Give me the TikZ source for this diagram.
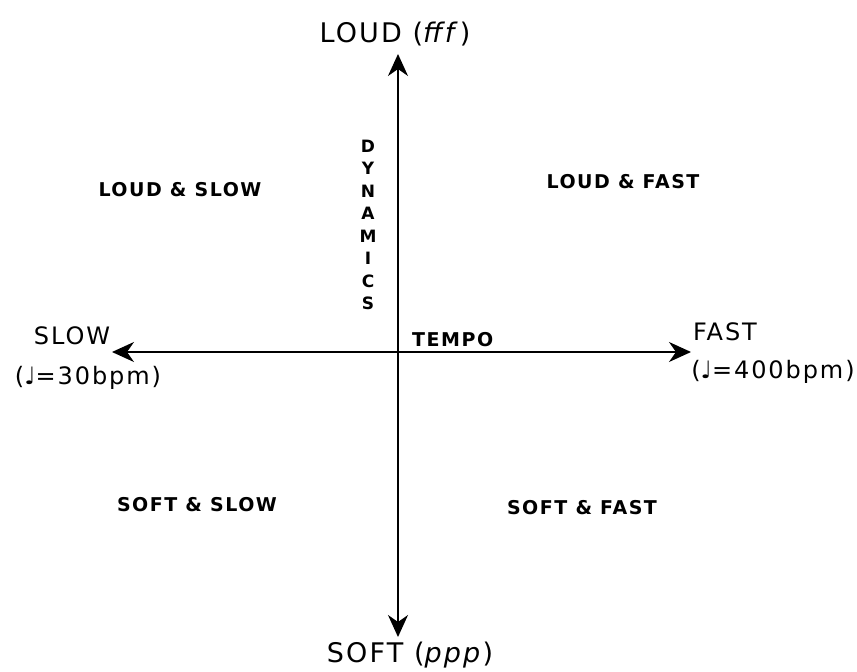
\documentclass[tikz,border=0pt]{standalone}
\usepackage{fontspec}
\setmainfont{DejaVu Sans}[LetterSpace=8]
\newfontfamily\notefont{DejaVu Sans}
\usetikzlibrary{arrows.meta,positioning}
\tikzset{
  axlbl/.style={font=\fontsize{24}{26}\selectfont,inner sep=1pt},
  biglbl/.style={font=\fontsize{27}{29}\selectfont,inner sep=1pt},
  quad/.style={font=\fontsize{19}{21}\selectfont\bfseries,inner sep=1pt},
  axis/.style={line width=1.8pt,-{Stealth[length=22pt,width=20pt,inset=7pt]}}
}
\begin{document}
\begin{tikzpicture}[x=1pt,y=-1pt]
\useasboundingbox (0,0) rectangle (857,672);
\coordinate (o) at (398,352);
\coordinate (t) at (398,54);
\coordinate (b) at (398,637);
\coordinate (l) at (112,352);
\coordinate (r) at (691,352);
\draw[axis] (o)--(t);
\draw[axis] (o)--(b);
\draw[axis] (o)--(l);
\draw[axis] (o)--(r);
\node[biglbl] (loud) at (395,34) {LOUD (\textit{fff})};
\node[biglbl] (soft) at (410,655) {SOFT (\textit{ppp})};
\node[axlbl] (slow) at (72,336) {SLOW};
\node[axlbl] (slowbpm) at (88,378) {({\notefont ♩}=30bpm)};
\node[axlbl] (fast) at (725,332) {FAST};
\node[axlbl] (fastbpm) at (773,372) {({\notefont ♩}=400bpm)};
\node[quad,anchor=west] (tempo) at (411,340) {TEMPO};
\node[quad,align=center,font=\fontsize{17}{22.5}\selectfont\bfseries] (dyn) at (368,225)
  {D\\Y\\N\\A\\M\\I\\C\\S};
\node[quad] (ls) at (180,190) {LOUD \& SLOW};
\node[quad] (lf) at (623,182) {LOUD \& FAST};
\node[quad] (ss) at (197,505) {SOFT \& SLOW};
\node[quad] (sf) at (582,508) {SOFT \& FAST};
\end{tikzpicture}
\end{document}
